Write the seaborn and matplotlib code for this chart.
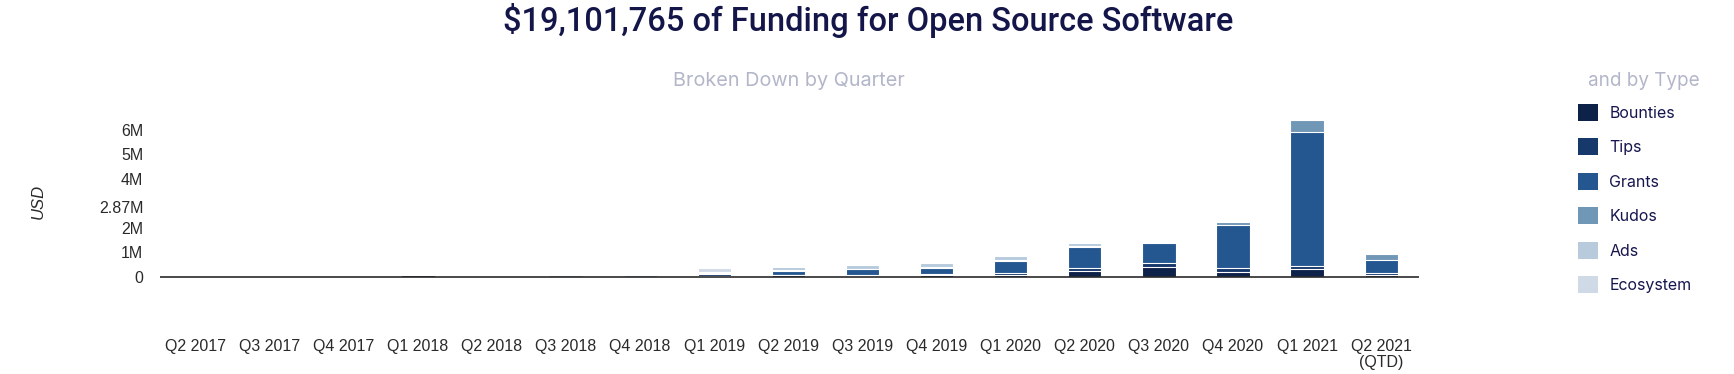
import numpy as np
import pandas as pd
import matplotlib
matplotlib.use("Agg")
import matplotlib.pyplot as plt
import matplotlib.patches as mpatches
import seaborn as sns

quarters = ["Q2 2017", "Q3 2017", "Q4 2017", "Q1 2018", "Q2 2018", "Q3 2018", "Q4 2018",
            "Q1 2019", "Q2 2019", "Q3 2019", "Q4 2019", "Q1 2020", "Q2 2020", "Q3 2020",
            "Q4 2020", "Q1 2021", "Q2 2021\n(QTD)"]
types = ["Bounties", "Tips", "Grants", "Kudos", "Ads", "Ecosystem"]

bounties  = [0.0, 0.0, 0.0, 0.07, -0.06, 0.0, 0.0, 0.04, 0.05, 0.04, 0.06, 0.08, 0.22, 0.40, 0.20, 0.33, 0.08]
tips      = [0.0, 0.0, 0.0, 0.03, 0.0, 0.0, 0.0, 0.06, 0.04, 0.03, 0.05, 0.07, 0.12, 0.16, 0.17, 0.10, 0.08]
grants    = [0.0, 0.0, 0.0, 0.0, 0.0, 0.0, 0.0, 0.03, 0.16, 0.23, 0.26, 0.50, 0.86, 0.82, 1.73, 5.50, 0.52]
kudos     = [0.04, 0.0, 0.0, 0.0, 0.0, 0.05, 0.05, 0.04, 0.02, 0.02, 0.03, 0.04, 0.06, 0.05, 0.13, 0.50, 0.26]
ads       = [0.0, 0.03, 0.03, 0.0, 0.0, 0.03, 0.03, 0.04, 0.13, 0.16, 0.17, 0.14, 0.12, 0.02, 0.03, 0.02, 0.03]
ecosystem = [0.0, 0.0, 0.0, 0.0, 0.0, 0.0, 0.0, 0.15, 0.02, 0.02, 0.04, 0.03, 0.02, 0.01, 0.0, 0.0, 0.02]

colors = ["#0e2148", "#17386a", "#24578f", "#7197b7", "#b7cbdd", "#d0d9e6"]

ytick_vals = [0, 1e6, 2e6, 2.87e6, 4e6, 5e6, 6e6]
ytick_labels = ["0", "1M", "2M", "2.87M", "4M", "5M", "6M"]

series = [bounties, tips, grants, kudos, ads, ecosystem]
df = pd.DataFrame({t: np.array(s) * 1e6 for t, s in zip(types, series)})
df["quarter"] = quarters
cum = df[types].cumsum(axis=1)

sns.set_theme(style="white")
plt.rcParams['font.family'] = ['Liberation Sans', 'DejaVu Sans']

fig = plt.figure(figsize=(17.34, 3.74), dpi=100)
ax = fig.add_axes([160/1734, 0.1163, (1419-160)/1734, 0.5687])

# draw cumulative layers from top to bottom so lower segments overlay upper ones
for t, c in reversed(list(zip(types, colors))):
    sns.barplot(x=df["quarter"], y=cum[t], color=c, width=0.45, edgecolor="white",
                linewidth=0.8, ax=ax, saturation=1)

ax.axhline(0, color="#2a2a2a", lw=1.2, zorder=5)
ax.set_xlim(-0.48, 16.51)
ax.set_ylim(-2.2e6, 6.5e6)
ax.set_yticks(ytick_vals)
ax.set_yticklabels(ytick_labels)
ax.set_xlabel("")
ax.set_ylabel("")
for s in ax.spines.values():
    s.set_visible(False)
ax.tick_params(axis="y", length=0, pad=12, labelsize=11.5, labelcolor="#2a2a2a")
ax.tick_params(axis="x", length=0, pad=6, labelsize=11.5, labelcolor="#2a2a2a")
ax.set_xticks(range(len(quarters)))
ax.set_xticklabels(quarters, linespacing=1.1, va="top")
ax.grid(False)

fig.text(38/1734, 1 - 201/374, "USD", rotation=90, style="italic", fontsize=12,
         color="#2a2a2a", ha="center", va="center")

fig.text(868/1734, 1 - 20/374, "$19,101,765 of Funding for Open Source Software",
         fontsize=23.5, color="#14164a", ha="center", va="center", fontweight="medium",
         family=["Roboto", "DejaVu Sans"])
fig.text(789/1734, 1 - 81/374, "Broken Down by Quarter", fontsize=14.3,
         color="#b3b6c9", ha="center", va="center", family=["Inter", "DejaVu Sans"])
fig.text(1644/1734, 1 - 81/374, "and by Type", fontsize=13.6,
         color="#b3b6c9", ha="center", va="center", family=["Inter", "DejaVu Sans"])

handles = [mpatches.Patch(facecolor=c, edgecolor="none", label=t) for t, c in zip(types, colors)]
leg = fig.legend(handles=handles, loc="upper left", bbox_to_anchor=(1578/1734, 1 - 104/374),
                 frameon=False, handlelength=1.25, handleheight=1.25, labelspacing=1.1,
                 handletextpad=0.7, borderpad=0, borderaxespad=0,
                 prop={"family": ["Inter", "DejaVu Sans"], "size": 11.5})
for txt in leg.get_texts():
    txt.set_color("#16164f")

fig.savefig("out.png", dpi=100)
